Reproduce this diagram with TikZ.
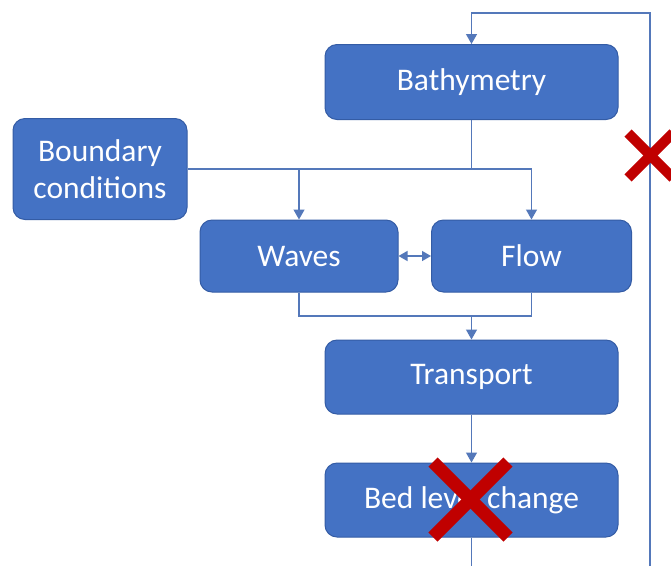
\documentclass[tikz,border=0pt]{standalone}
\usepackage{fontspec}
\setmainfont{Carlito}
\usetikzlibrary{arrows.meta}
\definecolor{boxblue}{RGB}{68,114,196}
\definecolor{boxedge}{RGB}{52,92,165}
\definecolor{linecol}{RGB}{84,120,186}
\definecolor{crossred}{RGB}{192,0,0}
\begin{document}
\begin{tikzpicture}[x=1pt,y=-1pt,
  blk/.style={draw=boxedge,line width=1pt,fill=boxblue,rounded corners=12pt,
    text=white,font=\fontsize{31.5}{37}\selectfont,align=center,inner sep=0pt},
  conn/.style={draw=linecol,line width=1.3pt},
  arr/.style={conn,-{Triangle[width=11pt,length=10pt]}},
  darr/.style={conn,{Triangle[width=10pt,length=9pt]}-{Triangle[width=10pt,length=9pt]}},
  crossline/.style={draw=crossred,line cap=butt}]
\useasboundingbox[fill=white] (0,0) rectangle (671,566);
\node[blk,minimum width=293pt,minimum height=75pt] (bath) at (471.5,82) {Bathymetry};
\node[blk,minimum width=174pt,minimum height=101pt] (bc) at (100,169) {Boundary\\conditions};
\node[blk,minimum width=198pt,minimum height=72pt] (waves) at (299,256) {Waves};
\node[blk,minimum width=200pt,minimum height=72pt] (flow) at (531.5,256) {Flow};
\node[blk,minimum width=293pt,minimum height=74pt] (trans) at (471.5,377) {Transport};
\node[blk,minimum width=293pt,minimum height=74pt] (bed) at (471.5,500) {Bed level change};
\coordinate (j2) at (471.5,316);
\coordinate (tr) at (650,13);
\coordinate (br) at (650,566);
\coordinate (bb) at (471.5,566);
% connectors
\draw[conn] (bath.south) -- (bath.south |- bc.east);
\draw[arr] (bc.east) -| (flow.north);
\draw[arr] (bc.east -| waves.north) -- (waves.north);
\draw[darr] (waves.east) -- (flow.west);
\draw[conn] (waves.south) |- (j2) -| (flow.south);
\draw[arr] (j2) -- (trans.north);
\draw[arr] (trans.south) -- (bed.north);
\draw[conn] (bed.south) -- (bb);
\draw[arr] (br) -- (tr) -| (bath.north);
% crosses
\draw[crossline,line width=13pt] (433,462) -- (508,537);
\draw[crossline,line width=13pt] (433,537) -- (508,462);
\draw[crossline,line width=10pt] (628,133) -- (673,178);
\draw[crossline,line width=10pt] (628,178) -- (673,133);
\end{tikzpicture}
\end{document}
